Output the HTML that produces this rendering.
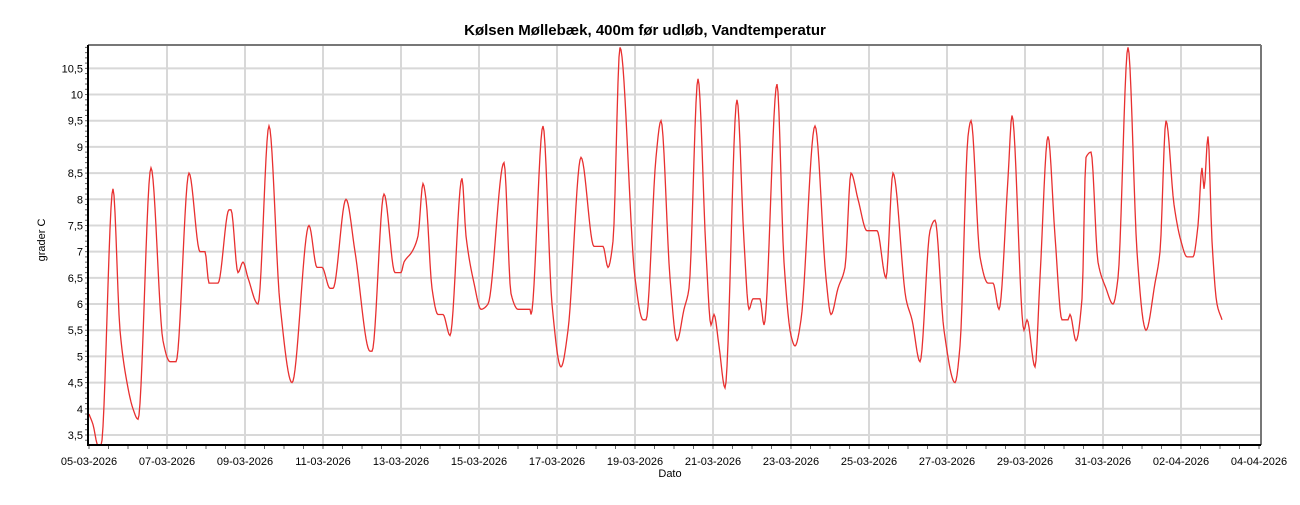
<!DOCTYPE html>
<html><head><meta charset="utf-8"><style>
body{margin:0;background:#fff;width:1300px;height:500px;overflow:hidden}
svg text{font-family:"Liberation Sans",Arial,sans-serif;fill:#000}
</style></head><body>
<svg id="s" width="1300" height="500" xmlns="http://www.w3.org/2000/svg">
<text x="645" y="35" font-size="15" font-weight="bold" text-anchor="middle">Kølsen Møllebæk, 400m før udløb, Vandtemperatur</text>
<text x="670" y="477" font-size="11" text-anchor="middle">Dato</text>
<text transform="translate(45,240) rotate(-90)" font-size="11" text-anchor="middle">grader C</text>
<g id="g"></g>
</svg>
<script>
var L=88,R=1261,T=45,B=445;
function Y(v){return 435-(v-3.5)*52.38;}
var h='';
for(var v=3.5;v<=10.51;v+=0.5){var y=Y(v);h+='<line x1="'+L+'" x2="'+R+'" y1="'+y+'" y2="'+y+'" stroke="#d8d8d8" stroke-width="2"/>';
h+='<text x="'+(L-5)+'" y="'+(y+4)+'" font-size="11" text-anchor="end">'+(v%1?v.toFixed(1).replace('.',','):v)+'</text>';}
for(var v=3.4;v<=10.9;v+=0.1){var y=Y(v);h+='<line x1="'+(L-3)+'" x2="'+L+'" y1="'+y+'" y2="'+y+'" stroke="#666" stroke-width="1"/>';}
var labs=['05-03-2026','07-03-2026','09-03-2026','11-03-2026','13-03-2026','15-03-2026','17-03-2026','19-03-2026','21-03-2026','23-03-2026','25-03-2026','27-03-2026','29-03-2026','31-03-2026','02-04-2026','04-04-2026'];
for(var i=0;i<16;i++){var x=89+78*i;
if(i>0&&i<15)h+='<line x1="'+x+'" x2="'+x+'" y1="'+T+'" y2="'+B+'" stroke="#d8d8d8" stroke-width="2"/>';
h+='<text x="'+x+'" y="465" font-size="11" text-anchor="middle">'+labs[i]+'</text>';}
for(var x=89;x<=1262;x+=19.5)h+='<line x1="'+x+'" x2="'+x+'" y1="'+B+'" y2="'+(B+4)+'" stroke="#666"/>';
var d=[[89,3.9],[93,3.7],[98,3.3],[101,3.3],[113,8.2],[120,5.5],[127,4.5],[133,4.0],[138,3.8],[151,8.6],[163,5.3],[170,4.9],[176,4.9],[189,8.5],[200,7.0],[205,7.0],[209,6.4],[218,6.4],[229,7.8],[231,7.8],[238,6.6],[243,6.8],[248,6.5],[258,6.0],[269,9.4],[280,6.0],[292,4.5],[309,7.5],[317,6.7],[322,6.7],[330,6.3],[333,6.3],[346,8.0],[355,7.0],[370,5.1],[372,5.1],[384,8.1],[395,6.6],[401,6.6],[404,6.8],[412,7.0],[418,7.3],[423,8.3],[426,8.0],[432,6.3],[438,5.8],[443,5.8],[450,5.4],[462,8.4],[466,7.3],[474,6.4],[481,5.9],[488,6.0],[504,8.7],[511,6.2],[518,5.9],[530,5.9],[531,5.8],[543,9.4],[552,6.0],[561,4.8],[568,5.5],[581,8.8],[594,7.1],[603,7.1],[608,6.7],[613,7.2],[620,10.9],[635,6.5],[643,5.7],[646,5.7],[656,8.8],[661,9.5],[670,6.5],[677,5.3],[684,5.9],[689,6.3],[698,10.3],[706,7.0],[711,5.6],[714,5.8],[719,5.2],[725,4.4],[737,9.9],[744,7.2],[749,5.9],[753,6.1],[760,6.1],[764,5.6],[777,10.2],[784,6.8],[791,5.4],[795,5.2],[801,5.7],[815,9.4],[826,6.5],[831,5.8],[838,6.3],[845,6.7],[851,8.5],[858,8.0],[867,7.4],[877,7.4],[886,6.5],[893,8.5],[906,6.1],[912,5.7],[920,4.9],[930,7.4],[935,7.6],[944,5.5],[955,4.5],[960,5.2],[968,9.2],[971,9.5],[980,6.9],[988,6.4],[993,6.4],[999,5.9],[1008,8.4],[1012,9.6],[1024,5.5],[1027,5.7],[1035,4.8],[1040,6.5],[1048,9.2],[1055,7.3],[1062,5.7],[1068,5.7],[1070,5.8],[1076,5.3],[1082,6.1],[1086,8.8],[1091,8.9],[1098,6.8],[1106,6.3],[1113,6.0],[1118,6.5],[1128,10.9],[1137,7.0],[1144,5.6],[1146,5.5],[1155,6.4],[1160,7.0],[1166,9.5],[1174,7.9],[1181,7.2],[1187,6.9],[1193,6.9],[1198,7.5],[1202,8.6],[1204,8.2],[1208,9.2],[1212,7.2],[1217,6.0],[1222,5.7]];
// monotone cubic interpolation
var n=d.length,m=[],s=[];
for(var i=0;i<n-1;i++)s.push((d[i+1][1]-d[i][1])/(d[i+1][0]-d[i][0]));
m[0]=s[0];m[n-1]=s[n-2];
for(var i=1;i<n-1;i++){if(s[i-1]*s[i]<=0)m[i]=0;else m[i]=2/(1/s[i-1]+1/s[i]);}
var p='';
for(var i=0;i<n-1;i++){var x0=d[i][0],x1=d[i+1][0],hh=x1-x0,y0=d[i][1],y1=d[i+1][1];
for(var x=x0;x<x1;x+=1){var t=(x-x0)/hh,t2=t*t,t3=t2*t;
var v=(2*t3-3*t2+1)*y0+(t3-2*t2+t)*hh*m[i]+(-2*t3+3*t2)*y1+(t3-t2)*hh*m[i+1];
var y=Math.max(T,Math.min(B,Y(v)));p+=x+','+y.toFixed(1)+' ';}}
p+=d[n-1][0]+','+Y(d[n-1][1]).toFixed(1);
h+='<polyline points="'+p+'" fill="none" stroke="#e83030" stroke-width="1.3"/>';
h+='<line x1="'+L+'" x2="'+R+'" y1="'+T+'" y2="'+T+'" stroke="#777" stroke-width="2"/>';
h+='<line x1="'+R+'" x2="'+R+'" y1="'+T+'" y2="'+B+'" stroke="#777" stroke-width="2"/>';
h+='<line x1="'+L+'" x2="'+L+'" y1="'+T+'" y2="'+(B+1)+'" stroke="#000" stroke-width="2"/>';
h+='<line x1="'+L+'" x2="'+R+'" y1="'+B+'" y2="'+B+'" stroke="#000" stroke-width="2"/>';
document.getElementById('g').innerHTML=h;
</script>
</body></html>
